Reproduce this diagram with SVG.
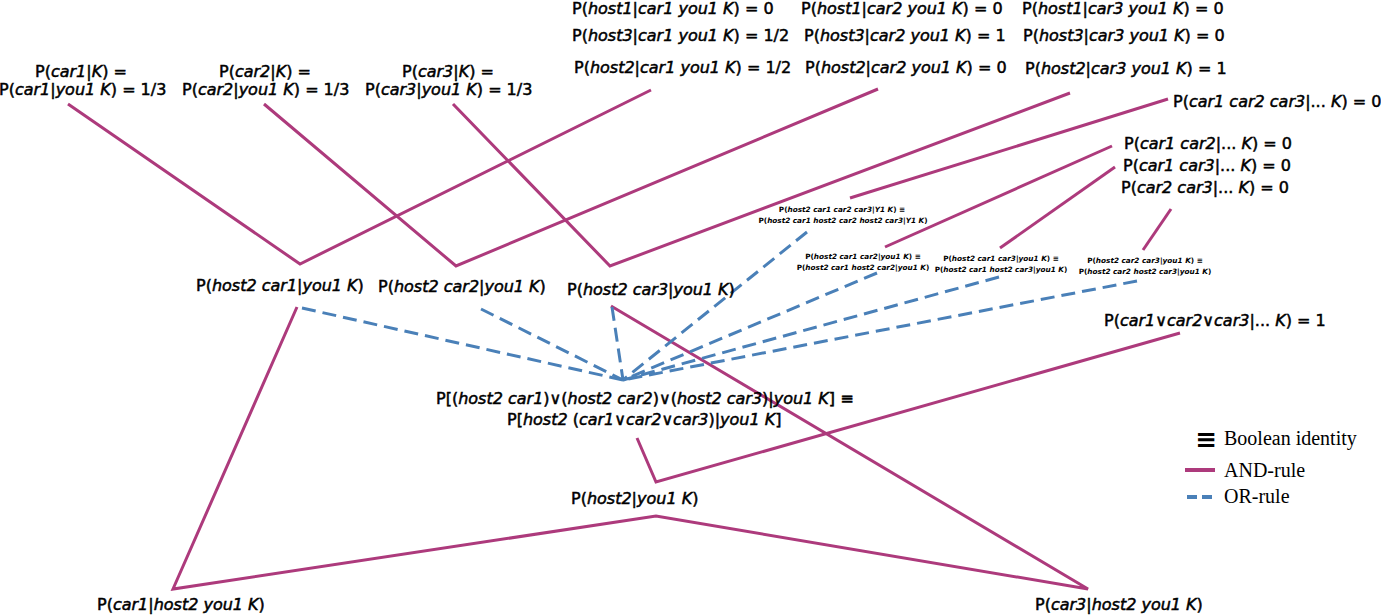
<svg xmlns="http://www.w3.org/2000/svg" width="1381" height="615" viewBox="0 0 1381 615">
<style>
.t{font-family:"DejaVu Sans",sans-serif;font-size:16px;fill:#000;stroke:#000;stroke-width:0.5}
.s{font-family:"DejaVu Sans",sans-serif;font-size:7.3px;font-weight:bold;text-anchor:middle;fill:#000}
.i{font-style:italic}
.and{fill:none;stroke:#ad3a7c;stroke-width:3;stroke-linejoin:miter}
.or{fill:none;stroke:#4a80b8;stroke-width:3;stroke-dasharray:14 7}
.leg{font-family:"Liberation Serif",serif;font-size:20px;fill:#000}
</style>
<rect width="1381" height="615" fill="#fff"/>
<g id="connectors">
<polyline class="and" points="68,104 300,264 651,90"/>
<polyline class="and" points="264,104 456,266 878,89"/>
<polyline class="and" points="453,104 610,266 1070,93"/>
<line class="and" x1="1168" y1="99" x2="850" y2="198"/>
<line class="and" x1="1112" y1="146" x2="885" y2="247"/>
<line class="and" x1="1115" y1="167" x2="1000" y2="248"/>
<line class="and" x1="1171" y1="209" x2="1143" y2="250"/>
<polyline class="and" points="1180,333 656,482 637,438"/>
<polyline class="and" points="297,307 173,589 656,516 1088,589 611,306"/>
<line class="or" x1="302" y1="308" x2="623" y2="380"/>
<line class="or" x1="481" y1="309" x2="623" y2="380"/>
<line class="or" x1="612" y1="307" x2="623" y2="380"/>
<line class="or" x1="807" y1="232" x2="623" y2="380"/>
<line class="or" x1="877" y1="273" x2="623" y2="380"/>
<line class="or" x1="999" y1="277" x2="623" y2="380"/>
<line class="or" x1="1137" y1="281" x2="623" y2="380"/>
</g>
<g id="h1c1"><text class="t" x="572" y="14">P(<tspan class="i">host1</tspan>|<tspan class="i">car1 you1 K</tspan>) = 0</text></g>
<g id="h3c1"><text class="t" x="572" y="41">P(<tspan class="i">host3</tspan>|<tspan class="i">car1 you1 K</tspan>) = 1/2</text></g>
<g id="h2c1"><text class="t" x="574" y="73">P(<tspan class="i">host2</tspan>|<tspan class="i">car1 you1 K</tspan>) = 1/2</text></g>
<g id="h1c2"><text class="t" x="801" y="14">P(<tspan class="i">host1</tspan>|<tspan class="i">car2 you1 K</tspan>) = 0</text></g>
<g id="h3c2"><text class="t" x="804" y="41">P(<tspan class="i">host3</tspan>|<tspan class="i">car2 you1 K</tspan>) = 1</text></g>
<g id="h2c2"><text class="t" x="805" y="73">P(<tspan class="i">host2</tspan>|<tspan class="i">car2 you1 K</tspan>) = 0</text></g>
<g id="h1c3"><text class="t" x="1022" y="14">P(<tspan class="i">host1</tspan>|<tspan class="i">car3 you1 K</tspan>) = 0</text></g>
<g id="h3c3"><text class="t" x="1023" y="41">P(<tspan class="i">host3</tspan>|<tspan class="i">car3 you1 K</tspan>) = 0</text></g>
<g id="h2c3"><text class="t" x="1025" y="74">P(<tspan class="i">host2</tspan>|<tspan class="i">car3 you1 K</tspan>) = 1</text></g>
<g id="c123"><text class="t" x="1173" y="107">P(<tspan class="i">car1 car2 car3</tspan>|... <tspan class="i">K</tspan>) = 0</text></g>
<g id="car1"><text class="t" x="35" y="77">P(<tspan class="i">car1</tspan>|<tspan class="i">K</tspan>) =</text><text class="t" x="-1" y="95">P(<tspan class="i">car1</tspan>|<tspan class="i">you1 K</tspan>) = 1/3</text></g>
<g id="car2"><text class="t" x="219" y="77">P(<tspan class="i">car2</tspan>|<tspan class="i">K</tspan>) =</text><text class="t" x="182" y="95">P(<tspan class="i">car2</tspan>|<tspan class="i">you1 K</tspan>) = 1/3</text></g>
<g id="car3"><text class="t" x="402" y="77">P(<tspan class="i">car3</tspan>|<tspan class="i">K</tspan>) =</text><text class="t" x="365" y="95">P(<tspan class="i">car3</tspan>|<tspan class="i">you1 K</tspan>) = 1/3</text></g>
<g id="c12"><text class="t" x="1124" y="149">P(<tspan class="i">car1 car2</tspan>|... <tspan class="i">K</tspan>) = 0</text></g>
<g id="c13"><text class="t" x="1123" y="171">P(<tspan class="i">car1 car3</tspan>|... <tspan class="i">K</tspan>) = 0</text></g>
<g id="c23"><text class="t" x="1121" y="193">P(<tspan class="i">car2 car3</tspan>|... <tspan class="i">K</tspan>) = 0</text></g>
<g id="b123"><text class="s" x="842" y="212">P(<tspan class="i">host2 car1 car2 car3</tspan>|<tspan class="i">Y1 K</tspan>) ≡</text><text class="s" x="843" y="223">P(<tspan class="i">host2 car1 host2 car2 host2 car3</tspan>|<tspan class="i">Y1 K</tspan>)</text></g>
<g id="b12"><text class="s" x="863" y="259">P(<tspan class="i">host2 car1 car2</tspan>|<tspan class="i">you1 K</tspan>) ≡</text><text class="s" x="863" y="270">P(<tspan class="i">host2 car1 host2 car2</tspan>|<tspan class="i">you1 K</tspan>)</text></g>
<g id="b13"><text class="s" x="1001" y="261">P(<tspan class="i">host2 car1 car3</tspan>|<tspan class="i">you1 K</tspan>) ≡</text><text class="s" x="1001" y="272">P(<tspan class="i">host2 car1 host2 car3</tspan>|<tspan class="i">you1 K</tspan>)</text></g>
<g id="b23"><text class="s" x="1145" y="263">P(<tspan class="i">host2 car2 car3</tspan>|<tspan class="i">you1 K</tspan>) ≡</text><text class="s" x="1145" y="274">P(<tspan class="i">host2 car2 host2 car3</tspan>|<tspan class="i">you1 K</tspan>)</text></g>
<g id="hc1"><text class="t" x="196" y="291">P(<tspan class="i">host2 car1</tspan>|<tspan class="i">you1 K</tspan>)</text></g>
<g id="hc2"><text class="t" x="378" y="292">P(<tspan class="i">host2 car2</tspan>|<tspan class="i">you1 K</tspan>)</text></g>
<g id="hc3"><text class="t" x="567" y="295">P(<tspan class="i">host2 car3</tspan>|<tspan class="i">you1 K</tspan>)</text></g>
<g id="cor"><text class="t" x="1104" y="326">P(<tspan class="i">car1</tspan>∨<tspan class="i">car2</tspan>∨<tspan class="i">car3</tspan>|... <tspan class="i">K</tspan>) = 1</text></g>
<g id="hor"><text class="t" x="436" y="404">P[(<tspan class="i">host2 car1</tspan>)∨(<tspan class="i">host2 car2</tspan>)∨(<tspan class="i">host2 car3</tspan>)|<tspan class="i">you1 K</tspan>] ≡</text><text class="t" x="507" y="425">P[<tspan class="i">host2</tspan> (<tspan class="i">car1</tspan>∨<tspan class="i">car2</tspan>∨<tspan class="i">car3</tspan>)|<tspan class="i">you1 K</tspan>]</text></g>
<g id="h2"><text class="t" x="571" y="504">P(<tspan class="i">host2</tspan>|<tspan class="i">you1 K</tspan>)</text></g>
<g id="c1h"><text class="t" x="97" y="610">P(<tspan class="i">car1</tspan>|<tspan class="i">host2 you1 K</tspan>)</text></g>
<g id="c3h"><text class="t" x="1035" y="610">P(<tspan class="i">car3</tspan>|<tspan class="i">host2 you1 K</tspan>)</text></g>
<g id="legend">
<text x="1217" y="448" style="font-family:'DejaVu Sans',sans-serif;font-size:26px;text-anchor:end;font-weight:bold">≡</text>
<text class="leg" x="1224" y="445">Boolean identity</text>
<line x1="1185" y1="470" x2="1215" y2="470" stroke="#ad3a7c" stroke-width="4"/>
<text class="leg" x="1224" y="477">AND-rule</text>
<line x1="1187" y1="497" x2="1212" y2="497" stroke="#4a80b8" stroke-width="4" stroke-dasharray="10 5"/>
<text class="leg" x="1224" y="503">OR-rule</text>
</g>
</svg>
